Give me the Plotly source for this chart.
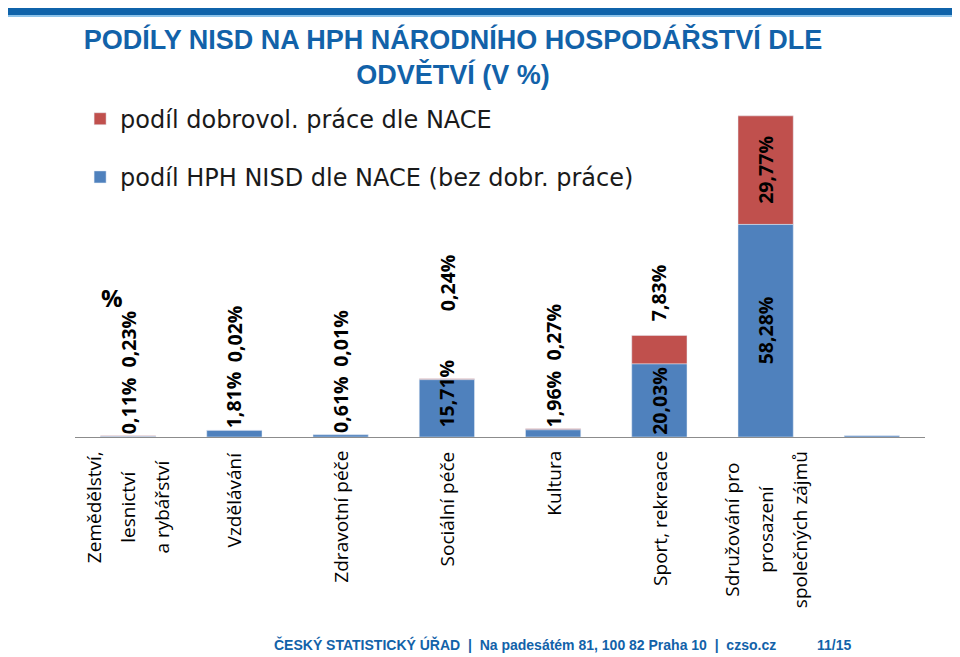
import plotly.graph_objects as go

# data (shares in %)
categories = [
    "Zemědělství,<br>lesnictví<br>a rybářství",
    "Vzdělávání",
    "Zdravotní péče",
    "Sociální péče",
    "Kultura",
    "Sport, rekreace",
    "Sdružování pro<br>prosazení<br>společných zájmů",
    " ",
]
hph_share = [0.11, 1.81, 0.61, 15.71, 1.96, 20.03, 58.28, 0.35]
volunteer_share = [0.23, 0.02, 0.01, 0.24, 0.27, 7.83, 29.77, 0.0]
show_labels = [True, True, True, True, True, True, True, False]

BLUE = "#4f81bd"
RED = "#c0504d"
TITLE_BLUE = "#1262a9"
LABEL_FONT = "Open Sans"
NARROW = "Liberation Sans Narrow, Arial Narrow, Liberation Sans, Arial"


def pct(v):
    return f"{v:.2f}".replace(".", ",") + "%"


fig = go.Figure()
# red trace first so it leads the legend; it sits on top of the blue one via base
fig.add_trace(go.Bar(
    x=categories, y=volunteer_share, base=hph_share,
    name="podíl dobrovol. práce dle NACE",
    marker_color=RED, legendgroup="a", hoverinfo="y",
))
fig.add_trace(go.Bar(
    x=categories, y=hph_share, name="podíl HPH NISD dle NACE (bez dobr. práce)",
    marker_color=BLUE, legendgroup="b", hoverinfo="y",
))

annotations = []
label_font = dict(family=LABEL_FONT, size=19.5, color="black")
fits = 18  # roughly the height (in %) a rotated label needs inside a bar

for cat, b, r, show in zip(categories, hph_share, volunteer_share, show_labels):
    if not show:
        continue
    # blue segment label
    if b >= fits:
        annotations.append(dict(x=cat, y=b / 2, text=f"<b>{pct(b)}</b>", textangle=-90,
                                showarrow=False, yanchor="middle", font=label_font))
    else:
        annotations.append(dict(x=cat, y=min(b, 2), text=f"<b>{pct(b)}</b>", textangle=-90,
                                showarrow=False, yanchor="bottom", font=label_font))
    # red segment label
    if r >= fits:
        annotations.append(dict(x=cat, y=b + r / 2, text=f"<b>{pct(r)}</b>", textangle=-90,
                                showarrow=False, yanchor="middle", font=label_font))
    else:
        annotations.append(dict(x=cat, y=b + r, text=f"<b>{pct(r)}</b>", textangle=-90,
                                showarrow=False, yanchor="bottom",
                                yshift=12 if b >= fits else 66, font=label_font))

# category labels, rotated, with wide line spacing like the slide
for cat in categories:
    lines = cat.split("<br>")
    txt = "<br>".join(f'<span style="font-size:19px">{ln}</span>' for ln in lines)
    annotations.append(dict(
        x=cat, y=0, text=txt, textangle=-90, showarrow=False, align="center",
        yanchor="top", yshift=-12, font=dict(family=LABEL_FONT, size=26, color="black"),
    ))

annotations += [
    dict(xref="paper", yref="paper", x=0.0435, y=0.415, xanchor="center", yanchor="middle",
         text="<b>%</b>", showarrow=False,
         font=dict(family=LABEL_FONT, size=24, color="black")),
    dict(xref="paper", yref="paper", x=0.827, y=-0.617, xanchor="right", yanchor="middle",
         text="<b>ČESKÝ STATISTICKÝ ÚŘAD  |  Na padesátém 81, 100 82 Praha 10  |  czso.cz</b>",
         showarrow=False, font=dict(family=NARROW, size=14, color=TITLE_BLUE)),
    dict(xref="paper", yref="paper", x=0.871, y=-0.617, xanchor="left", yanchor="middle",
         text="<b>11/15</b>", showarrow=False,
         font=dict(family=NARROW, size=14, color=TITLE_BLUE)),
]

# blue band on top of the slide (plot area: 850 x 337 px, top at 92 px)
shapes = [
    dict(type="rect", xref="paper", yref="paper", x0=-67 / 850, x1=893 / 850,
         y0=(429 - 7) / 337, y1=429 / 337, fillcolor="#0f63aa", line_width=0, layer="above"),
    dict(type="rect", xref="paper", yref="paper", x0=-67 / 850, x1=893 / 850,
         y0=(429 - 9) / 337, y1=(429 - 7) / 337, fillcolor="#8cc3ea", line_width=0,
         layer="above"),
]

fig.update_layout(
    width=960, height=657,
    margin=dict(l=67, r=43, t=92, b=228),
    paper_bgcolor="white", plot_bgcolor="white",
    barmode="overlay", bargap=0.48,
    title=dict(
        text="<b>PODÍLY NISD NA HPH NÁRODNÍHO HOSPODÁŘSTVÍ DLE<br>ODVĚTVÍ (V %)</b>",
        x=445 / 960, xanchor="center", y=1 - 41 / 657, yanchor="middle",
        font=dict(family=NARROW, size=27, color=TITLE_BLUE),
    ),
    xaxis=dict(showticklabels=False, showline=True, linecolor="#8c8c8c", linewidth=1,
               showgrid=False, ticks=""),
    yaxis=dict(visible=False, range=[0, 92.4]),
    legend=dict(
        x=0.006, y=1.01, xanchor="left", yanchor="top",
        traceorder="grouped", tracegroupgap=24,
        font=dict(family="DejaVu Sans", size=24, color="#1a1a1a"),
        bgcolor="rgba(0,0,0,0)",
    ),
    annotations=annotations,
    shapes=shapes,
)

fig.write_html("out.html")
